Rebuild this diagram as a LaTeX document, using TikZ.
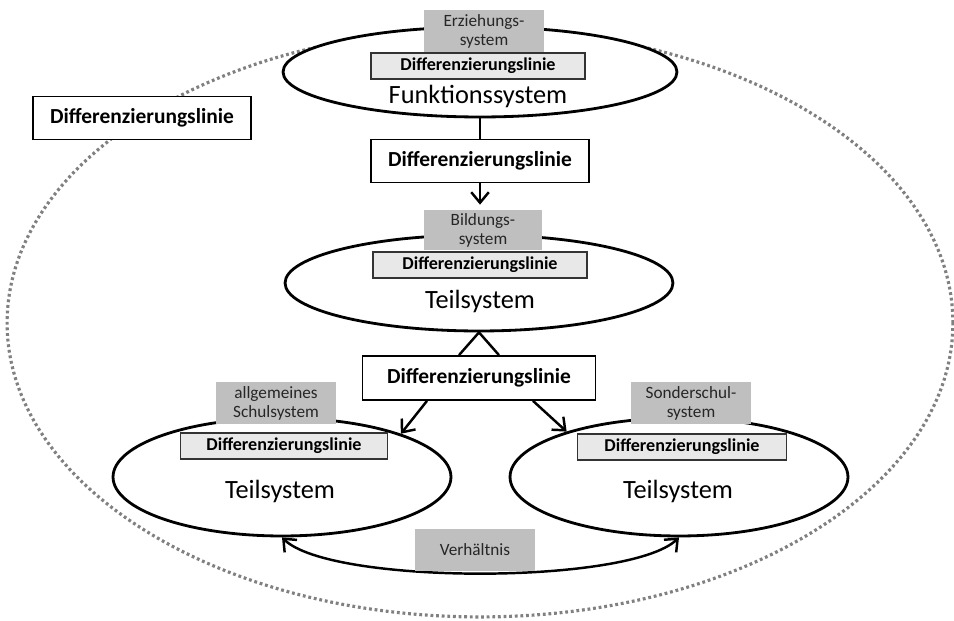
\documentclass[tikz,border=0pt]{standalone}
\usepackage{fontspec}
\setmainfont{Carlito}
\usetikzlibrary{calc}
\usetikzlibrary{positioning}
\usetikzlibrary{shapes.geometric}
\usetikzlibrary{arrows.meta}

\begin{document}
\begin{tikzpicture}[x=0.02cm, y=-0.02cm]

        \def\lw{1.6pt}

        % Styles of the systems, the name tags and the boxes
        \tikzset{
            sys/.style={ellipse, draw, line width=\lw, fill=white,
                inner sep=0pt},
            namebox/.style={fill=gray!50, text=black!85, align=center,
                font=\fontsize{9.8}{10.8}\selectfont,
                minimum width=2.42cm, minimum height=0.84cm, inner sep=0pt},
            linebox/.style={draw=black!80, line width=1pt, fill=black!9,
                font=\fontsize{10.3}{12}\selectfont\bfseries,
                minimum height=0.53cm, inner sep=0pt},
            bigbox/.style={draw, line width=1pt, fill=white,
                font=\fontsize{12.2}{14}\selectfont\bfseries,
                minimum width=4.36cm, minimum height=0.86cm, inner sep=0pt},
            systext/.style={font=\fontsize{15}{18}\selectfont, anchor=base},
            barb/.tip={Straight Barb[length=6pt,width=10pt]},
            pfeil/.style={line width=1.4pt, -barb}
        }

        \useasboundingbox (0,0) rectangle (954,621);

        % Outer dotted border
        \draw[gray, line width=1.8pt, dash pattern=on 1.6pt off 1.6pt]
            (480,323) ellipse [x radius=9.46cm, y radius=5.88cm];

        \node[bigbox] (D0) at (142,118) {Differenzierungslinie};

        % Funktionssystem
        \node[sys, minimum width=7.88cm, minimum height=1.8cm] (F) at (480,72) {};
        \node[namebox] (FN) at (484,31) {Erziehungs-\\system};
        \node[linebox, minimum width=4.28cm] (FL) at (478,66)
        {Differenzierungslinie};
        \node[systext] (FT) at (478,104) {Funktionssystem};

        \node[bigbox] (D1) at (480,161) {Differenzierungslinie};

        % Bildungssystem
        \node[sys, minimum width=7.76cm, minimum height=1.92cm] (B) at (479,283) {};
        \node[namebox, minimum width=2.38cm, minimum height=0.8cm] (BN)
            at (483,230) {Bildungs-\\system};
        \node[linebox, minimum width=4.28cm] (BL) at (480,265)
        {Differenzierungslinie};
        \node[systext] (BT) at (480,309) {Teilsystem};

        \node[bigbox, minimum width=4.66cm, minimum height=0.88cm] (D2)
            at (479,378) {Differenzierungslinie};

        % Schulsystem
        \node[sys, minimum width=6.76cm, minimum height=2.36cm] (S1) at (282,477) {};
        \node[namebox] (S1N) at (276,403) {allgemeines\\Schulsystem};
        \node[linebox, minimum width=4.14cm] (S1L) at (284,446)
        {Differenzierungslinie};
        \node[systext] (S1T) at (280,499) {Teilsystem};

        % Sonderschulsystem
        \node[sys, minimum width=6.76cm, minimum height=2.36cm] (S2) at (679,477) {};
        \node[namebox] (S2N) at (691,403) {Sonderschul-\\system};
        \node[linebox, minimum width=4.18cm] (S2L) at (682,447)
        {Differenzierungslinie};
        \node[systext] (S2T) at (678,499) {Teilsystem};

        \begin{scope}[line width=1.4pt]
            \draw (F.south) -- (D1.north);
            \draw[pfeil, shorten >=0.1cm] (D1.south) -- (D1.south |- BN.north);

            \draw[line join=miter] ($(D2.north)+(-20,0)$) -- (B.south)
                -- ($(D2.north)+(20,0)$);
            \draw[pfeil] ($(D2.south)+(-52,0)$) -- (S1.20);
            \draw[pfeil] ($(D2.south)+(54,0)$) -- (S2.158);

            \draw[barb-barb]
                (S1.south) .. controls (330,585) and (630,585) .. (S2.south);
        \end{scope}

        \node[namebox] (V) at (475,550) {Verhältnis};

\end{tikzpicture}
\end{document}
